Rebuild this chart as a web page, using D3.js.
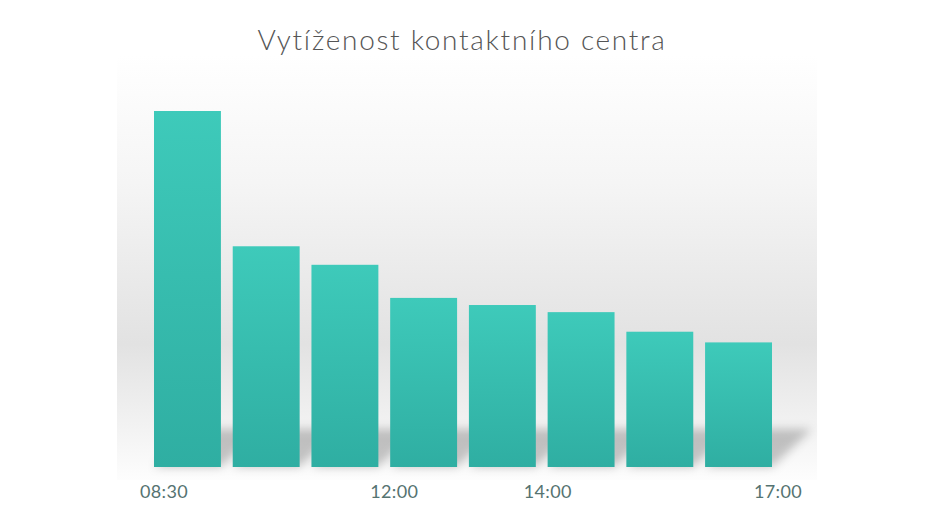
<!DOCTYPE html>
<html>
<head>
<meta charset="utf-8">
<script src="https://cdn.jsdelivr.net/npm/d3@7"></script>
<style>
  body { margin: 0; background: #ffffff; }
  svg { display: block; }
</style>
</head>
<body>
<div id="chart"></div>
<script>
let width = 933,
    height = 525;

// data (relative load, tallest bar = 100)
let slots = ["08:30", "09:40", "10:50", "12:00", "13:00", "14:00", "15:00", "16:00"];
let load = [100, 62, 56.8, 47.5, 45.5, 43.5, 38, 35];

// tick labels and the bar edge they sit on
let tickLabels = ["08:30", "12:00", "14:00", "17:00"];
let tickEdges = [0, 3, 5, 8];

let title = "Vytíženost kontaktního centra";

let svg = d3.select("#chart")
    .append("svg")
    .attr("width", width)
    .attr("height", height);

let defs = svg.append("defs");

// backdrop gradient: white at top, grey band low down, white again at the floor
let bg = defs.append("linearGradient")
    .attr("id", "bg-grad")
    .attr("x1", 0).attr("y1", 0)
    .attr("x2", 0).attr("y2", 1);
bg.append("stop").attr("offset", "0%").attr("stop-color", "#ffffff");
bg.append("stop").attr("offset", "30%").attr("stop-color", "#f5f5f5");
bg.append("stop").attr("offset", "68%").attr("stop-color", "#e2e2e2");
bg.append("stop").attr("offset", "86%").attr("stop-color", "#f1f1f1");
bg.append("stop").attr("offset", "100%").attr("stop-color", "#fdfdfd");

let barGrad = defs.append("linearGradient")
    .attr("id", "bar-grad")
    .attr("x1", 0).attr("y1", 0)
    .attr("x2", 0).attr("y2", 1);
barGrad.append("stop").attr("offset", "0%").attr("stop-color", "#3ecaba");
barGrad.append("stop").attr("offset", "100%").attr("stop-color", "#2faea2");

let blur = defs.append("filter")
    .attr("id", "shadow-blur")
    .attr("x", "-50%").attr("y", "-50%")
    .attr("width", "200%").attr("height", "200%");
blur.append("feGaussianBlur").attr("stdDeviation", 5);

// backdrop
svg.append("rect")
    .attr("x", 117)
    .attr("y", 55)
    .attr("width", 700)
    .attr("height", 425)
    .attr("fill", "url(#bg-grad)");

// scales
let baseline = 467;
let x = d3.scaleBand()
    .domain(slots)
    .range([154, 772])
    .paddingInner(0.15)
    .paddingOuter(0);

let y = d3.scaleLinear()
    .domain([0, 100])
    .range([baseline, 111]);

let data = slots.map((s, i) => ({slot: s, value: load[i]}));

// floor shadows cast back and to the right
svg.append("g")
    .attr("filter", "url(#shadow-blur)")
    .selectAll("path")
    .data(data)
    .join("path")
    .attr("d", d => {
        let x0 = x(d.slot), x1 = x0 + x.bandwidth();
        let dx = 40, dy = 38;
        return "M" + x0 + "," + baseline +
            "L" + x1 + "," + baseline +
            "L" + (x1 + dx) + "," + (baseline - dy) +
            "L" + (x0 + dx) + "," + (baseline - dy) + "Z";
    })
    .attr("fill", "#000")
    .attr("opacity", 0.22);

// bars
svg.append("g")
    .selectAll("rect")
    .data(data)
    .join("rect")
    .attr("x", d => x(d.slot))
    .attr("y", d => y(d.value))
    .attr("width", x.bandwidth())
    .attr("height", d => baseline - y(d.value))
    .attr("fill", "url(#bar-grad)");

// time labels, spread along the bar edges
let edgeX = d3.scaleLinear()
    .domain([0, slots.length])
    .range([x.range()[0] + 10, x.range()[1] + 6]);

svg.append("g")
    .selectAll("text")
    .data(tickLabels)
    .join("text")
    .attr("x", (d, i) => edgeX(tickEdges[i]))
    .attr("y", 498)
    .attr("text-anchor", "middle")
    .style("font-family", "Lato, 'Open Sans', sans-serif")
    .style("font-size", "18px")
    .style("font-weight", 400)
    .style("letter-spacing", "0.3px")
    .style("fill", "#557371")
    .text(d => d);

svg.append("text")
    .attr("x", 462)
    .attr("y", 50)
    .attr("text-anchor", "middle")
    .style("font-family", "Lato, 'Open Sans', sans-serif")
    .style("font-size", "28px")
    .style("font-weight", 300)
    .style("letter-spacing", "1.7px")
    .style("fill", "#555555")
    .text(title);
</script>
</body>
</html>
